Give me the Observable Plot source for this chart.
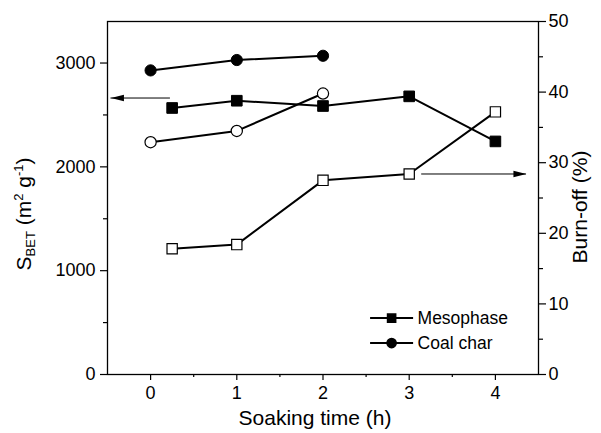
<!DOCTYPE html>
<html>
<head>
<meta charset="utf-8">
<script src="https://cdn.jsdelivr.net/npm/d3@7"></script>
<script src="https://cdn.jsdelivr.net/npm/@observablehq/plot@0.6"></script>
<style>
  html, body { margin: 0; padding: 0; background: white; }
  #chart svg { display: block; }
</style>
</head>
<body>
<div id="chart"></div>
<script>
// ---- Data ----
const mesoTime = [0.25, 1, 2, 3, 4];
const mesoSBET = [2567, 2637, 2586, 2679, 2245];     // m2/g (left axis)
const mesoBurn = [17.8, 18.4, 27.5, 28.4, 37.2];     // % (right axis)

const coalTime = [0, 1, 2];
const coalSBET = [2929, 3029, 3070];
const coalBurn = [32.9, 34.5, 39.8];

const xTicks = [0, 1, 2, 3, 4];
const xMinorTicks = [0.5, 1.5, 2.5, 3.5];
const yTicks = [0, 1000, 2000, 3000];
const yMinorTicks = [500, 1500, 2500];
const burnTicks = [0, 10, 20, 30, 40, 50];
const burnMinorTicks = [5, 15, 25, 35, 45];

const legendNames = ["Mesophase", "Coal char"];
const legendSymbols = ["square", "circle"];

// annotation arrows: which axis a series belongs to
const arrowFrom = [0.23, 3.145];
const arrowTo = [-0.46, 4.36];
const arrowSBET = [2663, null];
const arrowBurnVal = [null, 28.4];

// ---- Derived tables ----
const yMax = 3400, burnMax = 50, k = yMax / burnMax;  // right axis maps 0–50 % onto 0–3400
const meso = mesoTime.map((t, i) => ({t, s: mesoSBET[i], b: mesoBurn[i] * k}));
const coal = coalTime.map((t, i) => ({t, s: coalSBET[i], b: coalBurn[i] * k}));
const arrows = arrowFrom.map((x1, i) => ({
  x1, x2: arrowTo[i],
  y: arrowSBET[i] != null ? arrowSBET[i] : arrowBurnVal[i] * k,
  dir: arrowTo[i] < x1 ? 180 : 0
}));
const legend = legendNames.map((name, i) => ({
  name, symbol: legendSymbols[i],
  xa: 2.552, xm: 2.796, xb: 3.051, xt: 3.097,
  y: [543, 303][i]
}));

const arrowHead = {
  draw(ctx) { ctx.moveTo(0, 0); ctx.lineTo(-13, -3.3); ctx.lineTo(-13, 3.3); ctx.closePath(); }
};

const FONT = "Arial, 'Liberation Sans', Helvetica, sans-serif";
const lineW = 2;

const chart = Plot.plot({
  width: 601,
  height: 433,
  marginLeft: 107,
  marginRight: 63,
  marginTop: 21,
  marginBottom: 59,
  style: {fontFamily: FONT, fontSize: "18px", color: "black", background: "white", overflow: "visible"},
  x: {domain: [-0.5, 4.5]},
  y: {domain: [0, yMax]},
  marks: [
    Plot.axisY({ticks: yTicks, anchor: "left", tickSize: 7, tickPadding: 5, tickFormat: "d", label: null, fontSize: 18, strokeWidth: 1.2}),
    Plot.axisY({ticks: yMinorTicks, anchor: "left", tickSize: 4, tickFormat: () => "", label: null, strokeWidth: 1.2}),
    Plot.axisX({ticks: xTicks, anchor: "bottom", tickSize: 6, tickPadding: 6, tickFormat: "d", label: null, fontSize: 18, strokeWidth: 1.2}),
    Plot.axisX({ticks: xMinorTicks, anchor: "bottom", tickSize: 3, tickFormat: () => "", label: null, strokeWidth: 1.2}),
    Plot.axisY({ticks: burnTicks.map(v => v * k), anchor: "right", tickSize: 7, tickPadding: 3,
      tickFormat: d => String(Math.round(d / k)), label: null, fontSize: 18, strokeWidth: 1.2}),
    Plot.axisY({ticks: burnMinorTicks.map(v => v * k), anchor: "right", tickSize: 4, tickFormat: () => "", label: null, strokeWidth: 1.2}),
    Plot.frame({stroke: "black", strokeWidth: 1.3}),

    // annotation arrows
    Plot.ruleY(arrows, {y: "y", x1: "x1", x2: "x2", stroke: "black", strokeWidth: 1}),
    Plot.dot(arrows, {x: "x2", y: "y", symbol: () => arrowHead, rotate: "dir", fill: "black", stroke: null}),

    // S_BET lines (filled markers)
    Plot.line(meso, {x: "t", y: "s", stroke: "black", strokeWidth: lineW}),
    Plot.line(coal, {x: "t", y: "s", stroke: "black", strokeWidth: lineW}),
    // Burn-off lines (open markers)
    Plot.line(meso, {x: "t", y: "b", stroke: "black", strokeWidth: lineW}),
    Plot.line(coal, {x: "t", y: "b", stroke: "black", strokeWidth: lineW}),

    Plot.dot(meso, {x: "t", y: "s", symbol: "square", r: 6, fill: "black", stroke: "black", strokeWidth: 1}),
    Plot.dot(coal, {x: "t", y: "s", symbol: "circle", r: 5.6, fill: "black", stroke: "black", strokeWidth: 1}),
    Plot.dot(meso, {x: "t", y: "b", symbol: "square", r: 5.8, fill: "white", stroke: "black", strokeWidth: 1.2}),
    Plot.dot(coal, {x: "t", y: "b", symbol: "circle", r: 5.6, fill: "white", stroke: "black", strokeWidth: 1.2}),

    // legend
    Plot.ruleY(legend, {y: "y", x1: "xa", x2: "xb", stroke: "black", strokeWidth: lineW}),
    Plot.dot(legend, {x: "xm", y: "y", symbol: "symbol", r: 4.6, fill: "black", stroke: "black"}),
    Plot.text(legend, {x: "xt", y: "y", text: "name", textAnchor: "start", fontSize: 17.5, fill: "black"})
  ]
});

document.getElementById("chart").appendChild(chart);

// axis titles with sub/superscripts
const svg = d3.select(chart);
const yl = svg.append("text")
  .attr("transform", "translate(31,214) rotate(-90)")
  .attr("text-anchor", "middle")
  .attr("font-family", FONT).attr("font-size", 21).attr("fill", "black");
yl.append("tspan").text("S");
yl.append("tspan").attr("font-size", 13).attr("dy", 4).text("BET");
yl.append("tspan").attr("dy", -4).text(" (m");
yl.append("tspan").attr("font-size", 13).attr("dy", -8).text("2");
yl.append("tspan").attr("dy", 8).text(" g");
yl.append("tspan").attr("font-size", 13).attr("dy", -8).text("-1");
yl.append("tspan").attr("dy", 8).text(")");

svg.append("text")
  .attr("transform", "translate(587,207) rotate(-90)")
  .attr("text-anchor", "middle")
  .attr("font-family", FONT).attr("font-size", 21).attr("fill", "black")
  .text("Burn-off (%)");

svg.append("text")
  .attr("x", 315).attr("y", 425)
  .attr("text-anchor", "middle")
  .attr("font-family", FONT).attr("font-size", 21).attr("fill", "black")
  .text("Soaking time (h)");
</script>
</body>
</html>
